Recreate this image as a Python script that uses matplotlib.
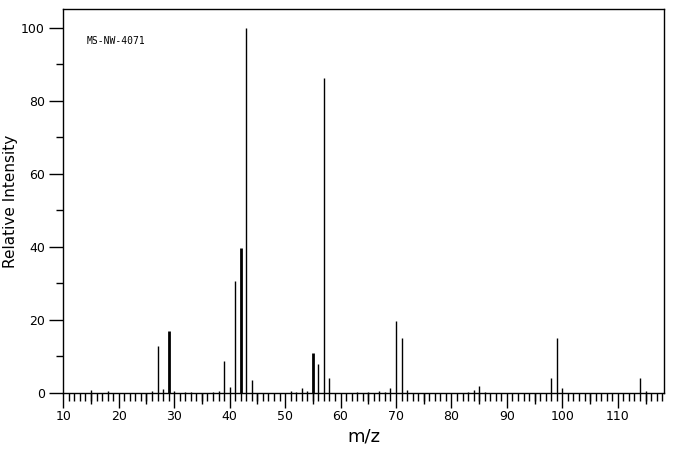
import matplotlib
matplotlib.use("Agg")
import matplotlib.pyplot as plt
from matplotlib.ticker import MultipleLocator, FixedLocator, NullFormatter

# ---- data ----
mz = [15, 18, 26, 27, 28, 29, 30, 32, 33, 37, 38, 39, 40, 41, 42, 43, 44,
      51, 52, 53, 54, 55, 56, 57, 58, 63, 65, 67, 68, 69, 70, 71, 72,
      83, 84, 85, 86, 98, 99, 100, 114, 115]
intensity = [0.8, 0.6, 0.6, 13.0, 1.1, 17.0, 0.6, 0.3, 0.3, 0.3, 0.6, 8.8, 1.7, 30.7, 39.7, 100.0, 3.6,
             0.5, 0.3, 1.4, 0.6, 11.0, 8.0, 86.2, 4.1, 0.3, 0.3, 0.5, 0.3, 1.4, 19.7, 15.1, 0.8,
             0.3, 0.8, 1.9, 0.3, 4.1, 15.1, 1.4, 4.1, 0.5]
x_major_ticks = [10, 20, 30, 40, 50, 60, 70, 80, 90, 100, 110]
y_major_ticks = [0, 20, 40, 60, 80, 100]
label_text = "MS-NW-4071"

thick_mz = {29, 42, 55}

W, H = 676, 455
fig = plt.figure(figsize=(W / 100, H / 100), dpi=100)
left, right, top, bottom = 63, 664, 9, 393
ax = fig.add_axes([left / W, 1 - bottom / H, (right - left) / W, (bottom - top) / H])

widths = [2.0 if m in thick_mz else 1.0 for m in mz]
ax.vlines(mz, 0, intensity, colors="black", linewidths=widths)

ax.set_xlim(9.95, 118.33)
ax.set_ylim(0, 105.2)

for s in ax.spines.values():
    s.set_linewidth(1.0)
    s.set_color("black")

ax.xaxis.set_major_locator(FixedLocator(x_major_ticks))
ax.xaxis.set_minor_locator(MultipleLocator(1))
ax.yaxis.set_major_locator(FixedLocator(y_major_ticks))
ax.yaxis.set_minor_locator(MultipleLocator(10))

ax.tick_params(axis="x", which="major", direction="out", length=11, width=1, labelsize=9, pad=1.5)
ax.tick_params(axis="x", which="minor", direction="out", length=5.5, width=1)
ax.tick_params(axis="y", which="major", direction="out", length=10, width=1, labelsize=9, pad=3)
ax.tick_params(axis="y", which="minor", direction="out", length=5, width=1)

# medium ticks at every 5
sec = ax.secondary_xaxis("bottom")
sec.xaxis.set_major_locator(FixedLocator([v + 5 for v in x_major_ticks]))
sec.xaxis.set_major_formatter(NullFormatter())
sec.tick_params(axis="x", which="major", direction="out", length=8, width=1)
sec.spines["bottom"].set_visible(False)

ax.set_xlabel("m/z", fontsize=13, labelpad=3)
ax.set_ylabel("Relative Intensity", fontsize=11, labelpad=2)

ax.text(0.04, 0.917, label_text, transform=ax.transAxes, fontsize=7,
        family="DejaVu Sans Mono", va="center", ha="left")

fig.savefig("out.png", dpi=100)
